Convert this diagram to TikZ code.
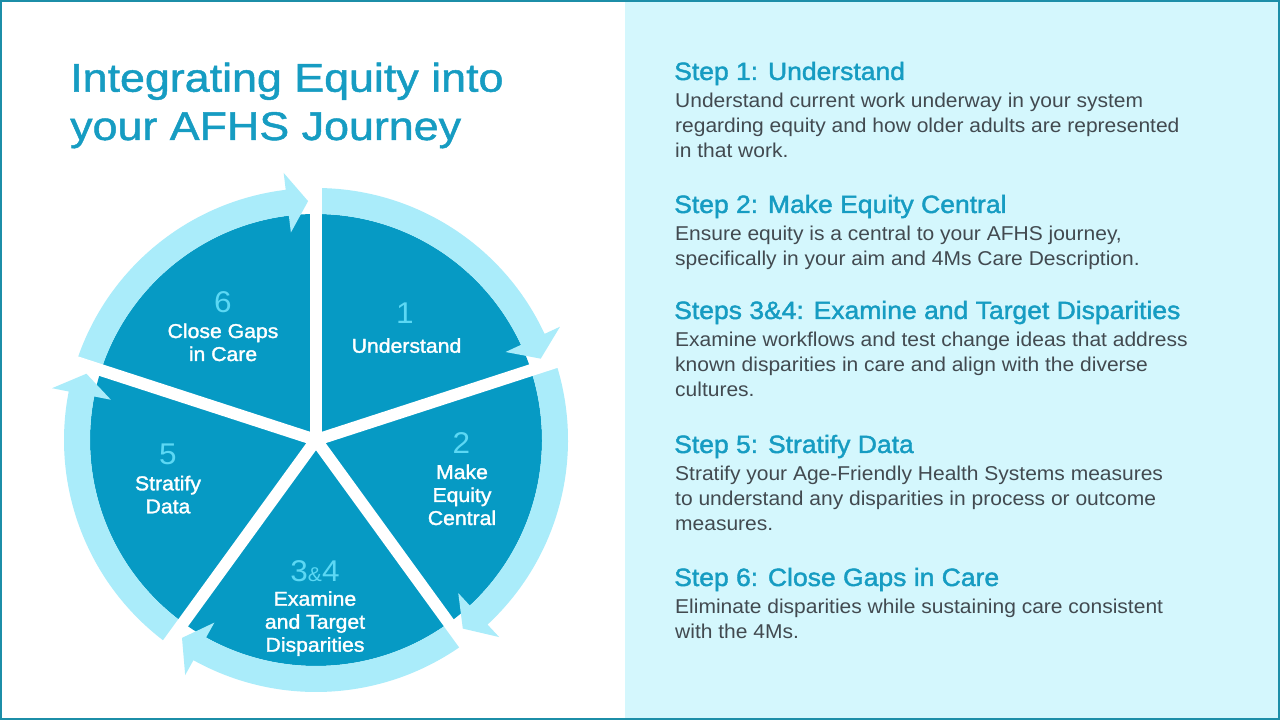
\documentclass[tikz,border=0pt]{standalone}
\usepackage{fontspec}
\setmainfont{Liberation Sans}[FakeStretch=1.05]
\newfontfamily\medfont{Liberation Sans}[FakeStretch=1.06, FakeBold=1.6]
\newfontfamily\titlefont{Liberation Sans}[FakeStretch=1.12, FakeBold=1.2]

\definecolor{wheelblue}{RGB}{6,154,196}
\definecolor{ringblue}{RGB}{170,236,250}
\definecolor{numcyan}{RGB}{92,216,244}
\definecolor{headteal}{RGB}{22,156,194}
\definecolor{bodygray}{RGB}{66,74,80}
\definecolor{panelcyan}{RGB}{212,247,253}
\definecolor{bordteal}{RGB}{28,142,168}

% curved ring arrow: start angle, end of body, tip
\newcommand{\ringarrow}[3]{%
  \fill[ringblue] (#1:252) arc[start angle=#1, end angle=#2, radius=252]
    -- (#2:269) -- (#3:239) -- (#2:209) -- (#2:226)
    arc[start angle=#2, end angle=#1, radius=226] -- cycle;}

\begin{document}
\begin{tikzpicture}[x=1pt,y=1pt,
  heading/.style={anchor=base west, inner sep=0pt, text=headteal, font=\medfont\fontsize{25}{30}\selectfont},
  body/.style={anchor=base west, inner sep=0pt, text=bodygray, align=left, font=\fontsize{20}{25}\selectfont},
  stepnum/.style={anchor=base, inner sep=0pt, text=numcyan, font=\fontsize{30}{30}\selectfont},
  steplabel/.style={anchor=base, inner sep=0pt, text=white, align=center, font=\medfont\fontsize{20}{23}\selectfont}]

	\useasboundingbox (0,0) rectangle (1280,720);
	\fill[white] (0,0) rectangle (1280,720);
	\fill[panelcyan] (625,0) rectangle (1280,720);
	\draw[line width=2, bordteal] (1,1) rectangle (1279,719);

	% base of a multi-line node = baseline of its last line
	\node (title)[anchor=base west, inner sep=0pt, text=headteal, align=left,
	  font=\titlefont\fontsize{40}{48.3}\selectfont] at (70,580) {Integrating Equity into\\your AFHS Journey};

	% the wheel
	\begin{scope}[shift={(316,280)}]
	\fill[wheelblue] (0,0) circle[radius=226];
	\ringarrow{90}{24.9}{19.9}
	\ringarrow{18}{-47.1}{-52.1}
	\ringarrow{-54}{-119.1}{-124.1}
	\ringarrow{234}{168.9}{163.9}
	\ringarrow{162}{96.9}{91.9}
	\draw[white, line width=12] (0,0) -- (90:262);
	\draw[white, line width=12] (0,0) -- (18:262);
	\draw[white, line width=12] (0,0) -- (-54:262);
	\draw[white, line width=12] (0,0) -- (-126:262);
	\draw[white, line width=12] (0,0) -- (162:262);
	\end{scope}

	\node (N1)[stepnum] at (405,396.7) {1};
	\node (L1)[steplabel] at (406.5,367.3) {Understand};
	\node (N2)[stepnum] at (461.5,266) {2};
	\node (L2)[steplabel] at (462,195) {Make\\Equity\\Central};
	\node (N34)[stepnum] at (315,138.3) {3{\fontsize{20}{20}\selectfont\&}4};
	\node (L34)[steplabel] at (315,68.3) {Examine\\and Target\\Disparities};
	\node (N5)[stepnum] at (168,255) {5};
	\node (L5)[steplabel] at (168,206.7) {Stratify\\Data};
	\node (N6)[stepnum] at (223,407.7) {6};
	\node (L6)[steplabel] at (223,359) {Close Gaps\\in Care};

	% right panel
	\node (H1)[heading] at (674,640) {Step 1: Understand};
	\node (B1)[body] at (675,562) {Understand current work underway in your system\\regarding equity and how older adults are represented\\in that work.};
	\node (H2)[heading] at (674,507) {Step 2: Make Equity Central};
	\node (B2)[body] at (675,454) {Ensure equity is a central to your AFHS journey,\\specifically in your aim and 4Ms Care Description.};
	\node (H34)[heading] at (674,401) {Steps 3\&4: Examine and Target Disparities};
	\node (B34)[body] at (675,323) {Examine workflows and test change ideas that address\\known disparities in care and align with the diverse\\cultures.};
	\node (H5)[heading] at (674,267) {Step 5: Stratify Data};
	\node (B5)[body] at (675,189) {Stratify your Age-Friendly Health Systems measures\\to understand any disparities in process or outcome\\measures.};
	\node (H6)[heading] at (674,134) {Step 6: Close Gaps in Care};
	\node (B6)[body] at (675,81) {Eliminate disparities while sustaining care consistent\\with the 4Ms.};

\end{tikzpicture}
\end{document}
